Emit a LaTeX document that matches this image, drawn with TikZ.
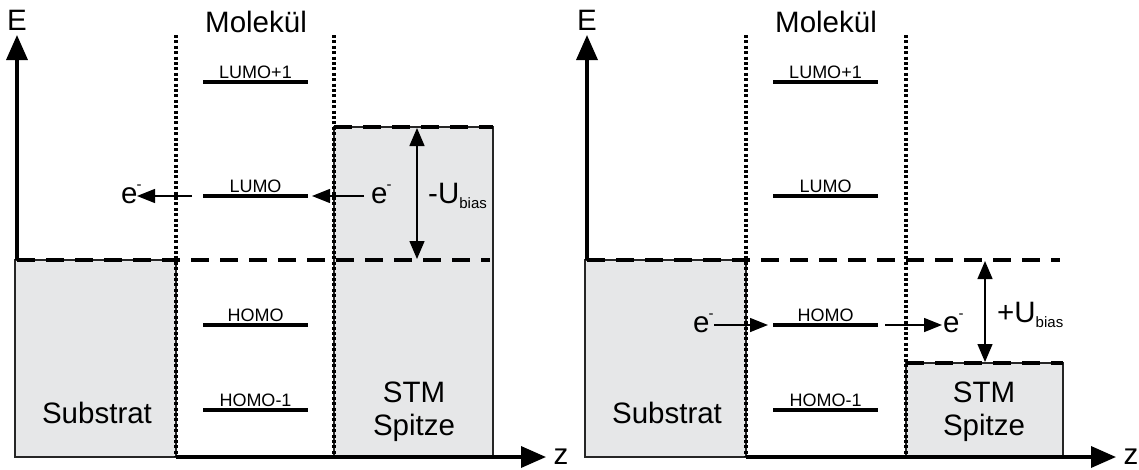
\documentclass[tikz,border=0pt]{standalone}
\usepackage{fontspec}
\setmainfont{Liberation Sans}
\usetikzlibrary{arrows.meta}
\definecolor{boxgray}{RGB}{230,231,232}
\newcommand{\elec}{e\kern-1pt\raisebox{14pt}{\fontsize{15}{15}\selectfont -}}
\newcommand{\ubias}[1]{#1U\raisebox{-5pt}{\fontsize{15}{15}\selectfont bias}}
\begin{document}
\begin{tikzpicture}[x=1pt,y=-1pt,
  boxst/.style={draw=black!85, line width=1.2pt, fill=boxgray},
  dotln/.style={line width=3.6pt, dash pattern=on 3pt off 2.4pt},
  dashln/.style={line width=4.5pt, dash pattern=on 18pt off 11pt},
  axisln/.style={line width=3.5pt, -{Triangle[length=25pt,width=21pt]}},
  level/.style={line width=4pt},
  lvl/.style={font=\fontsize{18}{18}\selectfont, inner sep=1.5pt, above},
  big/.style={font=\fontsize{29.5}{33}\selectfont, inner sep=0pt, align=center},
  earr/.style={line width=1.4pt, -{Triangle[length=18pt,width=14pt]}},
  barr/.style={line width=1.4pt, {Triangle[length=18pt,width=15pt]}-{Triangle[length=18pt,width=15pt]}},
]
\useasboundingbox (0,0) rectangle (1139,469);

% ================= LEFT PANEL =================
\draw[boxst] (15,260) rectangle (176,457);
\draw[boxst] (334,127) rectangle (493,457);
\draw[dotln] (176,35) -- (176,457);
\draw[dotln] (334,35) -- (334,457);
\draw[dashln] (17,260) -- (490,260);
\draw[dashln] (334,127) -- (493,127);
\coordinate (oL) at (17,260);
\coordinate (yL) at (17,35);
\coordinate (xLs) at (176,457);
\coordinate (xL) at (546,457);
\draw[axisln] (oL) -- (yL);
\draw[axisln] (xLs) -- (xL);
\node[big, anchor=base] (EL) at (17,30) {E};
\node[big, anchor=base] (zL) at (561,464) {z};
\node[big, anchor=base] (molL) at (256,32) {Molekül};

\draw[level] (203,82) -- node[lvl] (l1L) {LUMO+1} (308,82);
\draw[level] (203,196) -- node[lvl] (l0L) {LUMO} (308,196);
\draw[level] (203,325) -- node[lvl] (h0L) {HOMO} (308,325);
\draw[level] (203,410) -- node[lvl] (h1L) {HOMO-1} (308,410);

\node[big, anchor=base] (subL) at (97,423) {Substrat};
\node[big, anchor=base] (stmL) at (414,435) {STM\\Spitze};

\node[big, anchor=base west] (e1L) at (121,203) {\elec};
\node[big, anchor=base west] (e2L) at (371,203) {\elec};
\coordinate (a1s) at (192,196);
\coordinate (a1e) at (137,196);
\coordinate (a2s) at (364,196);
\coordinate (a2e) at (312,196);
\draw[earr] (a1s) -- (a1e);
\draw[earr] (a2s) -- (a2e);
\coordinate (bLt) at (417,128);
\coordinate (bLb) at (417,259);
\draw[barr] (bLt) -- (bLb);
\node[big, anchor=base west] (uL) at (428,203) {\ubias{-}};

% ================= RIGHT PANEL =================
\draw[boxst] (585,260) rectangle (746,457);
\draw[boxst] (906,363) rectangle (1063,457);
\draw[dotln] (746,35) -- (746,457);
\draw[dotln] (906,35) -- (906,457);
\draw[dashln] (587,260) -- (1060,260);
\draw[dashln] (906,363) -- (1063,363);
\coordinate (oR) at (587,260);
\coordinate (yR) at (587,35);
\coordinate (xRs) at (746,457);
\coordinate (xR) at (1116,457);
\draw[axisln] (oR) -- (yR);
\draw[axisln] (xRs) -- (xR);
\node[big, anchor=base] (ER) at (587,30) {E};
\node[big, anchor=base] (zR) at (1131,464) {z};
\node[big, anchor=base] (molR) at (826,32) {Molekül};

\draw[level] (773,82) -- node[lvl] (l1R) {LUMO+1} (878,82);
\draw[level] (773,196) -- node[lvl] (l0R) {LUMO} (878,196);
\draw[level] (773,325) -- node[lvl] (h0R) {HOMO} (878,325);
\draw[level] (773,410) -- node[lvl] (h1R) {HOMO-1} (878,410);

\node[big, anchor=base] (subR) at (667,423) {Substrat};
\node[big, anchor=base] (stmR) at (984,435) {STM\\Spitze};

\node[big, anchor=base west] (e1R) at (693,332) {\elec};
\node[big, anchor=base west] (e2R) at (943,332) {\elec};
\coordinate (c1s) at (714,325);
\coordinate (c1e) at (768,325);
\coordinate (c2s) at (885,325);
\coordinate (c2e) at (942,325);
\draw[earr] (c1s) -- (c1e);
\draw[earr] (c2s) -- (c2e);
\coordinate (bRt) at (985,261);
\coordinate (bRb) at (985,362);
\draw[barr] (bRt) -- (bRb);
\node[big, anchor=base west] (uR) at (997,322) {\ubias{+}};
\end{tikzpicture}
\end{document}
